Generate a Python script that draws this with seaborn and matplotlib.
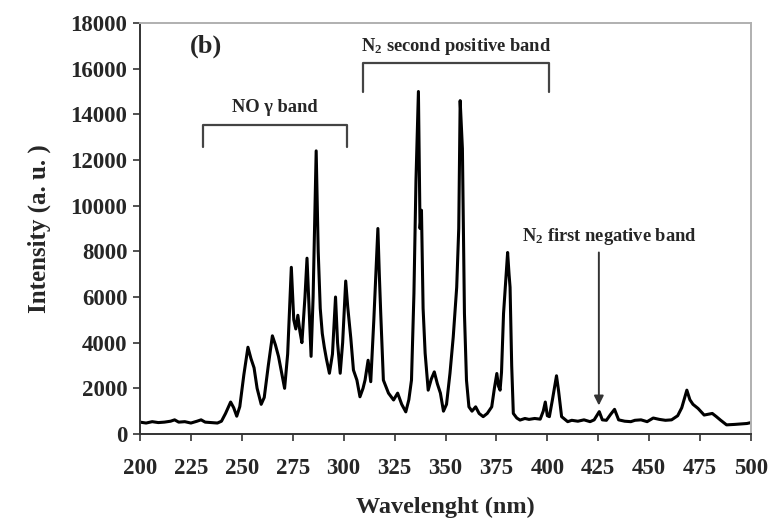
import matplotlib
matplotlib.use("Agg")
import matplotlib.pyplot as plt
import seaborn as sns
import pandas as pd

# ---- data ----
wavelength = [200, 203, 206, 209, 212, 215, 217, 219, 222, 225, 228, 230, 232, 235, 238, 240,
              242, 244.5, 246, 247.5, 249, 251, 253, 254.5, 256, 257.5, 259.5, 261, 263, 265,
              266.5, 268, 269.5, 271, 272.5, 274.3, 275.5, 276.5, 277.5, 278.5, 279.5, 281,
              282, 283, 284, 285, 286.5, 287.5, 288.5, 289.5, 290.5, 291.5, 293, 294.5, 296,
              297, 298.3, 299.5, 301, 302, 303.5, 304.8, 306.5, 308, 309.5, 310.5, 312, 313.3,
              314.8, 316.8, 317.5, 318.2, 319.5, 322, 324.5, 326.5, 328.5, 330.5, 332, 333.3,
              334.5, 335.5, 336.7, 337.5, 338.2, 339, 340, 341.5, 343, 344.5, 346, 347.5, 349,
              350.5, 352.2, 353.8, 355.5, 356.5, 357.2, 358.3, 359.3, 360.3, 361.5, 363, 364.8,
              366.5, 368.5, 370.5, 372.7, 374, 375.2, 376, 376.8, 377.5, 378.5, 380.5, 381.2,
              381.7, 382.5, 383.3, 385, 386.6, 389, 391, 393.8, 396.5, 398, 399, 400, 401,
              402.5, 404.5, 405.5, 407, 410, 412, 415, 418, 421, 423, 425.5, 427, 429, 431,
              433, 435, 438, 441, 443, 446, 449, 452, 455, 458, 461, 464, 466, 468.5, 470,
              471.5, 474, 477, 481, 483, 485, 488, 492, 495, 498, 500]
intensity = [520, 480, 540, 500, 520, 560, 620, 520, 540, 480, 560, 620, 520, 500, 480, 560,
             900, 1400, 1150, 780, 1200, 2600, 3800, 3300, 2900, 2000, 1300, 1600, 3000, 4300,
             3900, 3400, 2700, 2000, 3500, 7300, 5000, 4600, 5200, 4500, 4000, 6000,
             7700, 5500, 3400, 6000, 12400, 8000, 5500, 4400, 3800, 3300, 2660, 3500, 6000,
             4000, 2660, 4000, 6700, 5560, 4200, 2800, 2360, 1630, 2000, 2360, 3230, 2290,
             4980, 9000, 7000, 5280, 2360, 1790, 1490, 1790, 1300, 970, 1500, 2360,
             6150, 11100, 15000, 9000, 9800, 5500, 3540, 1920, 2400, 2720, 2200, 1790, 1000,
             1300, 2660, 4250, 6430, 9000, 14600, 12500, 5280, 2360, 1190, 1000, 1190,
             900, 760, 900, 1190, 2000, 2650, 2100, 1920, 2700, 5280, 7950, 7000,
             6430, 3000, 900, 700, 610, 680, 640, 680, 650, 1000, 1400, 800, 760,
             1500, 2550, 1900, 760, 540, 600, 560, 620, 540, 620, 980, 620, 600, 850,
             1080, 620, 560, 540, 600, 620, 540, 700, 640, 600, 620, 800, 1150, 1920, 1500,
             1300, 1120, 830, 900, 760, 610, 400, 420, 440, 460, 500]

x_ticks = [200, 225, 250, 275, 300, 325, 350, 375, 400, 425, 450, 475, 500]
y_ticks = [0, 2000, 4000, 6000, 8000, 10000, 12000, 14000, 16000, 18000]

# annotation geometry (data units)
no_band = (231, 301.5, 13550, 12550)       # x0, x1, top y, foot y
n2_pos_band = (309.5, 400.8, 16250, 14980)
arrow_x, arrow_y0, arrow_y1 = 425.3, 7950, 1250

sns.set_theme(style="white")
plt.rcParams["font.family"] = ["Liberation Serif", "DejaVu Serif"]
plt.rcParams["font.weight"] = "bold"
plt.rcParams["mathtext.fontset"] = "custom"
plt.rcParams["mathtext.rm"] = "Liberation Serif:bold"
plt.rcParams["mathtext.bf"] = "Liberation Serif:bold"
plt.rcParams["mathtext.default"] = "bf"

df = pd.DataFrame({"wavelength": wavelength, "intensity": intensity})

fig = plt.figure(figsize=(7.68, 5.27), dpi=100)
ax = fig.add_axes([140 / 768, (527 - 434) / 527, (751 - 140) / 768, (434 - 23) / 527])

sns.lineplot(data=df, x="wavelength", y="intensity", ax=ax, color="black",
             linewidth=2.2, sort=False, estimator=None)

ax.set_xlim(200, 500)
ax.set_ylim(0, 18000)
ax.set_xticks(x_ticks)
ax.set_yticks(y_ticks)
ax.set_xticklabels([str(v) for v in x_ticks], fontsize=16.5, fontweight="bold")
ax.set_yticklabels([str(v) for v in y_ticks], fontsize=16.5, fontweight="bold")
ax.tick_params(axis="y", direction="out", length=5, width=1.2, color="#333333",
               pad=4, left=True)
ax.tick_params(axis="x", direction="out", length=5, width=1.2, color="#333333",
               pad=12, bottom=True)
ax.set_xlabel("Wavelenght (nm)", fontsize=17.5, fontweight="bold", labelpad=13)
ax.set_ylabel("Intensity (a. u. )", fontsize=18, fontweight="bold", labelpad=14)

for side in ["left", "bottom"]:
    ax.spines[side].set_color("#333333")
    ax.spines[side].set_linewidth(1.4)
for side in ["top", "right"]:
    ax.spines[side].set_color("#b0b0b0")
    ax.spines[side].set_linewidth(1.4)

# brackets
for x0, x1, ytop, yfoot in (no_band, n2_pos_band):
    ax.plot([x0, x0, x1, x1], [yfoot, ytop, ytop, yfoot], color="#444444", linewidth=1.6)

ax.text(266, 14300, "NO γ band", ha="center", va="center", fontsize=13.3, fontweight="bold")
ax.text(355, 16950, "N$_2$ second positive band", ha="center", va="center",
        fontsize=13.3, fontweight="bold")
ax.text(430.5, 8650, "N$_2$ first negative band", ha="center", va="center",
        fontsize=13.3, fontweight="bold")
ax.text(224.5, 17000, "(b)", ha="left", va="center", fontsize=19, fontweight="bold")

ax.annotate("", xy=(arrow_x, arrow_y1), xytext=(arrow_x, arrow_y0),
            arrowprops=dict(arrowstyle="-|>", color="#333333", lw=1.4,
                            mutation_scale=14, shrinkA=0, shrinkB=0))

fig.savefig("out.png", dpi=100)
